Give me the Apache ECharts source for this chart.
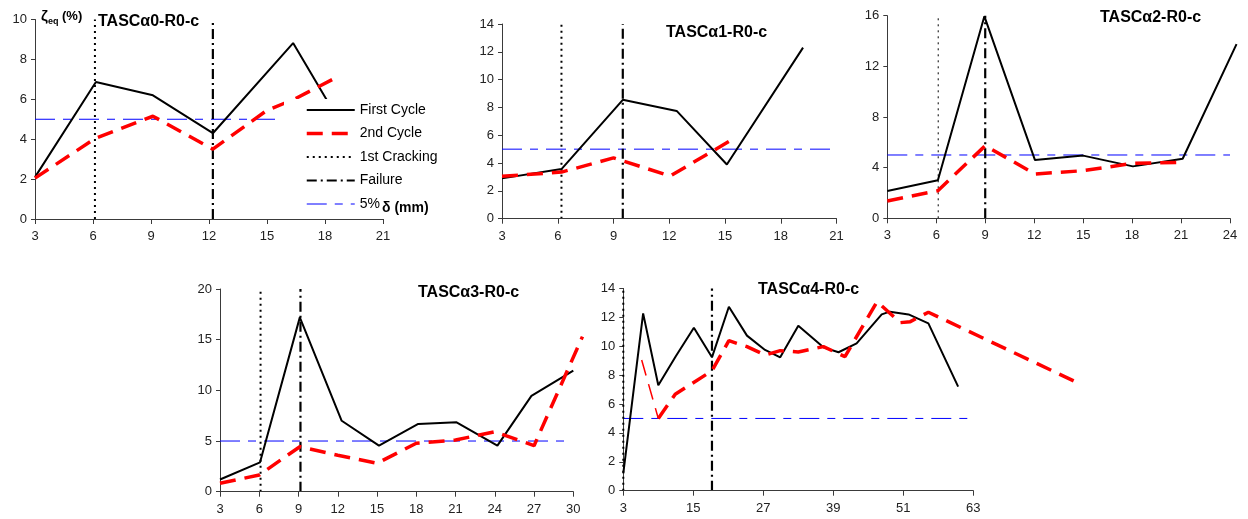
<!DOCTYPE html>
<html><head><meta charset="utf-8">
<script src="https://cdn.jsdelivr.net/npm/echarts@6/dist/echarts.min.js"></script>
<style>html,body{margin:0;padding:0;background:#fff}#c{width:1248px;height:519px}</style>
</head><body><div id="c"></div>
<script>
// ---------------- data ----------------
const panelTitles = ['TASCα0-R0-c', 'TASCα1-R0-c', 'TASCα2-R0-c', 'TASCα3-R0-c', 'TASCα4-R0-c'];

const p1XTicks = [3, 6, 9, 12, 15, 18, 21];
const p1YTicks = [0, 2, 4, 6, 8, 10];
const p1First  = [[3, 2.1], [6.15, 6.87], [9.1, 6.2], [12.2, 4.3], [16.35, 8.82], [18.1, 5.95]];
const p1Second = [[3, 2.05], [6.1, 4.03], [9.1, 5.15], [12.2, 3.5], [15, 5.45], [16.4, 6.0], [18.4, 7.0]];
const p1Crack = 6.1, p1Fail = 12.2, p1RefEnd = 15.8;

const p2XTicks = [3, 6, 9, 12, 15, 18, 21];
const p2YTicks = [0, 2, 4, 6, 8, 10, 12, 14];
const p2First  = [[3, 2.9], [6.2, 3.57], [9.5, 8.55], [12.4, 7.75], [15.1, 3.9], [19.2, 12.3]];
const p2Second = [[3, 3.05], [6.2, 3.35], [9.0, 4.37], [12.05, 3.07], [15.4, 5.7]];
const p2Crack = 6.2, p2Fail = 9.5, p2RefEnd = 21;

const p3XTicks = [3, 6, 9, 12, 15, 18, 21, 24];
const p3YTicks = [0, 4, 8, 12, 16];
const p3First  = [[3, 2.15], [6.1, 3.0], [8.95, 15.95], [12.05, 4.6], [15, 4.95], [18.05, 4.1], [21.1, 4.7], [24.4, 13.75]];
const p3Second = [[3, 1.37], [6.1, 2.18], [9.0, 5.73], [12.05, 3.5], [15, 3.76], [18.05, 4.34], [20.9, 4.42]];
const p3Crack = 6.12, p3Fail = 9.0, p3RefEnd = 24;

const p4XTicks = [3, 6, 9, 12, 15, 18, 21, 24, 27, 30];
const p4YTicks = [0, 5, 10, 15, 20];
const p4First  = [[3, 1.2], [6.06, 2.9], [9.1, 17.2], [12.3, 7.0], [15.15, 4.55], [18.15, 6.68], [21.08, 6.85], [24.2, 4.55], [26.8, 9.45], [30, 11.95]];
const p4Second = [[3, 0.83], [6, 1.65], [9.1, 4.44], [12, 3.6], [15, 2.8], [18, 4.78], [21, 5.1], [24, 5.92], [27, 4.54], [30.7, 15.3]];
const p4Crack = 6.1, p4Fail = 9.15, p4RefEnd = 29.8;

const p5XTicks = [3, 15, 27, 39, 51, 63];
const p5YTicks = [0, 2, 4, 6, 8, 10, 12, 14];
const p5First  = [[3, 1.2], [6.4, 12.27], [9, 7.3], [12, 9.3], [15.1, 11.28], [18.2, 9.23], [21.1, 12.73], [24.2, 10.73], [27.3, 9.74], [29.9, 9.23], [33, 11.42], [37.3, 9.92], [39.9, 9.58], [43, 10.2], [47.3, 12.2], [48.7, 12.39], [51.9, 12.2], [55.3, 11.58], [60.4, 7.2]];
const p5SecondStart = [[6.15, 9.04], [9, 5.0]];
const p5Second = [[9, 5.0], [11.9, 6.67], [18.2, 8.3], [21.1, 10.38], [24.2, 9.97], [27.3, 9.39], [29.9, 9.69], [33, 9.6], [37.3, 9.97], [41, 9.28], [46.5, 13.08], [50.5, 11.63], [52.2, 11.7], [55.3, 12.35], [80.2, 7.6]];
const p5Crack = 3, p5Fail = 18.2, p5RefEnd = 62.5;

const refLevel = 5;
const legendNames = ['First Cycle', '2nd Cycle', '1st Cracking', 'Failure', '5%'];

// ---------------- layout / styles ----------------
const FONT = '"Liberation Sans", Arial, sans-serif';
const panels = [
  {xt: p1XTicks, yt: p1YTicks, first: p1First, second: p1Second, crack: p1Crack, fail: p1Fail, refEnd: p1RefEnd,
   grid: {left: 35, top: 19.5, width: 348, height: 199.5}, title: {left: 98, top: 14}, crackW: 2},
  {xt: p2XTicks, yt: p2YTicks, first: p2First, second: p2Second, crack: p2Crack, fail: p2Fail, refEnd: p2RefEnd,
   grid: {left: 502, top: 24, width: 334.5, height: 194.7}, title: {left: 666, top: 25}, crackW: 2},
  {xt: p3XTicks, yt: p3YTicks, first: p3First, second: p3Second, crack: p3Crack, fail: p3Fail, refEnd: p3RefEnd,
   grid: {left: 887.3, top: 15.7, width: 342.7, height: 202.6}, title: {left: 1100, top: 10}, crackW: 1},
  {xt: p4XTicks, yt: p4YTicks, first: p4First, second: p4Second, crack: p4Crack, fail: p4Fail, refEnd: p4RefEnd,
   grid: {left: 220, top: 289, width: 353.3, height: 202.7}, title: {left: 418, top: 285}, crackW: 2},
  {xt: p5XTicks, yt: p5YTicks, first: p5First, second: p5Second, crack: p5Crack, fail: p5Fail, refEnd: p5RefEnd,
   grid: {left: 623.3, top: 288.4, width: 350, height: 202.3}, title: {left: 758, top: 282}, crackW: 2}
];

const sFirst  = {color: '#000000', width: 2, type: 'solid'};
const sSecond = {color: '#FF0000', width: 3.5, type: [16, 9]};
const sCrack  = {color: '#000000', width: 2, type: [2, 4]};
const sFail   = {color: '#000000', width: 2.2, type: [10, 4, 2, 4]};
const sRef    = {color: '#0000FF', width: 1, type: [20, 8, 8, 8]};

const axisCol = '#3a3a3a';
const grids = [], xAxes = [], yAxes = [], series = [], titles = [];

function makeGrid(g) {
  return Object.assign({containLabel: false, outerBoundsMode: 'none'}, g);
}

// Hidden twin axes (same pixel scale, wider range) so lines that run past the
// axis end in the original are still drawn through the library's scales.
function overflowAxes(p, i, dataMaxX) {
  const xmin = p.xt[0], xmax = p.xt[p.xt.length - 1];
  const ymin = p.yt[0], ymax = p.yt[p.yt.length - 1];
  const newMax = Math.ceil(dataMaxX + 1);
  const g = grids.length;
  grids.push(makeGrid({left: p.grid.left, top: p.grid.top, height: p.grid.height,
              width: p.grid.width * (newMax - xmin) / (xmax - xmin)}));
  xAxes.push({type: 'value', gridIndex: g, min: xmin, max: newMax, show: false});
  yAxes.push({type: 'value', gridIndex: g, min: ymin, max: ymax, show: false});
  return g;
}

panels.forEach((p, i) => {
  grids.push(makeGrid(p.grid));
  const xmin = p.xt[0], xmax = p.xt[p.xt.length - 1];
  const ymin = p.yt[0], ymax = p.yt[p.yt.length - 1];
  xAxes.push({
    type: 'value', gridIndex: i, min: xmin, max: xmax, interval: p.xt[1] - p.xt[0],
    axisLine: {lineStyle: {color: axisCol, width: 1}},
    axisTick: {length: 5, lineStyle: {color: axisCol}},
    axisLabel: {margin: 11, fontSize: 13, color: '#222', fontFamily: FONT, showMinLabel: true, showMaxLabel: true},
    splitLine: {show: false}, z: 10
  });
  yAxes.push({
    type: 'value', gridIndex: i, min: ymin, max: ymax, interval: p.yt[1] - p.yt[0],
    axisLine: {show: true, lineStyle: {color: axisCol, width: 1}},
    axisTick: {show: true, length: 4, lineStyle: {color: axisCol}},
    axisLabel: {margin: 8, fontSize: 13, color: '#222', fontFamily: FONT, showMinLabel: true, showMaxLabel: true},
    splitLine: {show: false}
  });
  titles.push({text: panelTitles[i], left: p.title.left, top: p.title.top, padding: 0,
    textStyle: {fontFamily: FONT, fontWeight: 'bold', fontSize: 16, color: '#000'}});
});

function addLine(p, i, name, data, style, z) {
  const xmax = p.xt[p.xt.length - 1];
  const dMax = Math.max.apply(null, data.map(d => d[0]));
  const ax = dMax > xmax ? overflowAxes(p, i, dMax) : i;
  series.push({type: 'line', name: name, xAxisIndex: ax, yAxisIndex: ax, data: data,
    symbol: 'none', silent: true, animation: false, lineStyle: style, z: z});
}

panels.forEach((p, i) => {
  const xmin = p.xt[0];
  const ymin = p.yt[0], ymax = p.yt[p.yt.length - 1];
  addLine(p, i, '5%', [[xmin, refLevel], [p.refEnd, refLevel]], sRef, 2);
  addLine(p, i, '1st Cracking', [[p.crack, ymin], [p.crack, ymax]], Object.assign({}, sCrack, {width: p.crackW}), 3);
  addLine(p, i, 'Failure', [[p.fail, ymin], [p.fail, ymax]], sFail, 3);
  addLine(p, i, 'First Cycle', p.first, sFirst, 4);
  addLine(p, i, '2nd Cycle', p.second, sSecond, 5);
  if (i === 4) addLine(p, i, '2nd Cycle', p5SecondStart, Object.assign({}, sSecond, {width: 1.5}), 5);
});

// axis names on the first panel
yAxes[0].name = '{z|ζ}{s|eq}{p| (%)}';
yAxes[0].nameLocation = 'end';
yAxes[0].nameGap = 3;
yAxes[0].nameTextStyle = {align: 'left', verticalAlign: 'middle', padding: [0, 0, 0, 6],
  rich: {
    z: {fontFamily: FONT, fontWeight: 'bold', fontSize: 15, color: '#000'},
    s: {fontFamily: FONT, fontWeight: 'bold', fontSize: 9, color: '#000', padding: [10, 0, 0, 0]},
    p: {fontFamily: FONT, fontWeight: 'bold', fontSize: 13, color: '#000'}
  }};
xAxes[0].name = 'δ (mm)';
xAxes[0].nameLocation = 'end';
xAxes[0].nameGap = -1;
xAxes[0].nameTextStyle = {fontFamily: FONT, fontWeight: 'bold', fontSize: 14, color: '#000',
  align: 'left', verticalAlign: 'bottom', lineHeight: 22};

const legendStyles = [sFirst, sSecond, sCrack, sFail, sRef];
const option = {
  animation: false,
  backgroundColor: '#fff',
  title: titles,
  grid: grids,
  xAxis: xAxes,
  yAxis: yAxes,
  legend: {
    orient: 'vertical', left: 284, top: 99, backgroundColor: '#fff',
    padding: [4, 8, 4, 21], itemWidth: 48, itemHeight: 14, itemGap: 9.5,
    selectedMode: false, z: 6,
    textStyle: {fontFamily: FONT, fontSize: 14, color: '#000'},
    itemStyle: {opacity: 0},
    data: legendNames.map((n, k) => ({name: n, lineStyle: Object.assign({}, legendStyles[k]), itemStyle: {opacity: 0}}))
  },
  series: series
};
const chart = echarts.init(document.getElementById('c'), null, {renderer: 'canvas'});
chart.setOption(option);
</script>
</body></html>
